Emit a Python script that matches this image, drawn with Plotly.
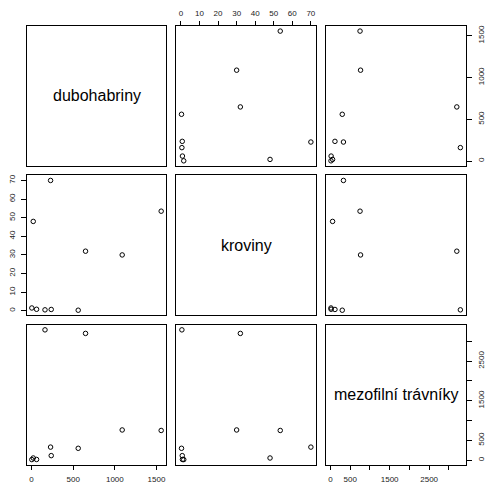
import plotly.graph_objects as go

# ---- data ----
var_names = ["dubohabriny", "kroviny", "mezofilní trávníky"]
dubohabriny = [161, 648, 1088, 1556, 228, 560, 236, 3, 20, 60]
kroviny = [0.5, 32, 30, 53.5, 70, 0.3, 0.7, 1.5, 48, 0.8]
mezofilni = [3290, 3200, 763, 750, 330, 300, 115, 15, 55, 18]

d_tickvals = [0, 500, 1000, 1500]
d_ticktext = ["0", "500", "1000", "1500"]
k_tickvals = [0, 10, 20, 30, 40, 50, 60, 70]
k_ticktext = ["0", "10", "20", "30", "40", "50", "60", "70"]
m_tickvals = [0, 500, 1000, 1500, 2000, 2500, 3000]
m_ticktext = ["0", "500", "", "1500", "", "2500", ""]

data = [dubohabriny, kroviny, mezofilni]
ticks = [(d_tickvals, d_ticktext), (k_tickvals, k_ticktext), (m_tickvals, m_ticktext)]

W, H = 486, 484
col_left = [26.7, 176.7, 326.5]
row_top = [25.0, 175.0, 325.0]
PW, PH = 140.0, 140.7


def rng(v):
    lo, hi = min(v), max(v)
    r = hi - lo
    return [lo - 0.04 * r, hi + 0.04 * r]


FONT = "Liberation Sans, Arial, Helvetica, sans-serif"
TICKFONT = dict(family=FONT, size=8, color="#222")
TICKCOMMON = dict(showticklabels=True, ticks="outside", tickcolor="black", tickwidth=1,
                  tickfont=TICKFONT, ticklabeloverflow="allow")

fig = go.Figure()
layout = {}
for i in range(3):
    for j in range(3):
        n = i * 3 + j + 1
        xa = "xaxis" if n == 1 else f"xaxis{n}"
        ya = "yaxis" if n == 1 else f"yaxis{n}"
        xr = "x" if n == 1 else f"x{n}"
        yr = "y" if n == 1 else f"y{n}"
        xd = [col_left[j] / W, (col_left[j] + PW) / W]
        yd = [1 - (row_top[i] + PH) / H, 1 - row_top[i] / H]
        xax = dict(domain=xd, anchor=yr, range=rng(data[j]), showgrid=False, zeroline=False,
                   showline=True, mirror=True, linecolor="black", linewidth=1,
                   showticklabels=False, ticks="", fixedrange=True)
        yax = dict(domain=yd, anchor=xr, range=rng(data[i]), showgrid=False, zeroline=False,
                   showline=True, mirror=True, linecolor="black", linewidth=1,
                   showticklabels=False, ticks="", fixedrange=True)
        # x axes: top on even columns (row 1), bottom on odd columns (last row)
        if i == 0 and j % 2 == 1:
            tv, tt = ticks[j]
            xax.update(side="top", ticklen=4, tickvals=tv, ticktext=tt,
                       ticklabelstandoff=2, **TICKCOMMON)
        if i == 2 and j % 2 == 0:
            tv, tt = ticks[j]
            xax.update(side="bottom", ticklen=4, tickvals=tv, ticktext=tt,
                       ticklabelstandoff=3, **TICKCOMMON)
        # y axes: left on even rows (first col), right on odd rows (last col)
        if j == 0 and i % 2 == 1:
            tv, tt = ticks[i]
            yax.update(side="left", ticklen=5, tickvals=tv, ticktext=tt,
                       tickangle=-90, ticklabelstandoff=2, **TICKCOMMON)
        if j == 2 and i % 2 == 0:
            tv, tt = ticks[i]
            yax.update(side="right", ticklen=5, tickvals=tv, ticktext=tt,
                       tickangle=-90, ticklabelstandoff=3, **TICKCOMMON)
        layout[xa] = xax
        layout[ya] = yax
        if i == j:
            fig.add_annotation(text=var_names[i], xref=f"{xr} domain", yref=f"{yr} domain",
                               x=0.5, y=0.5, showarrow=False,
                               font=dict(family=FONT, size=16, color="black"))
            fig.add_trace(go.Scatter(x=[], y=[], xaxis=xr, yaxis=yr, showlegend=False))
        else:
            fig.add_trace(go.Scatter(
                x=data[j], y=data[i], mode="markers", xaxis=xr, yaxis=yr,
                showlegend=False, hoverinfo="skip",
                marker=dict(symbol="circle-open", size=4.5, color="black",
                            line=dict(width=1, color="black"))))

fig.update_layout(width=W, height=H, margin=dict(l=0, r=0, t=0, b=0),
                  paper_bgcolor="white", plot_bgcolor="white", **layout)
fig.write_html("out.html", config={"displayModeBar": False},
               post_script="document.body.style.margin='0';")
